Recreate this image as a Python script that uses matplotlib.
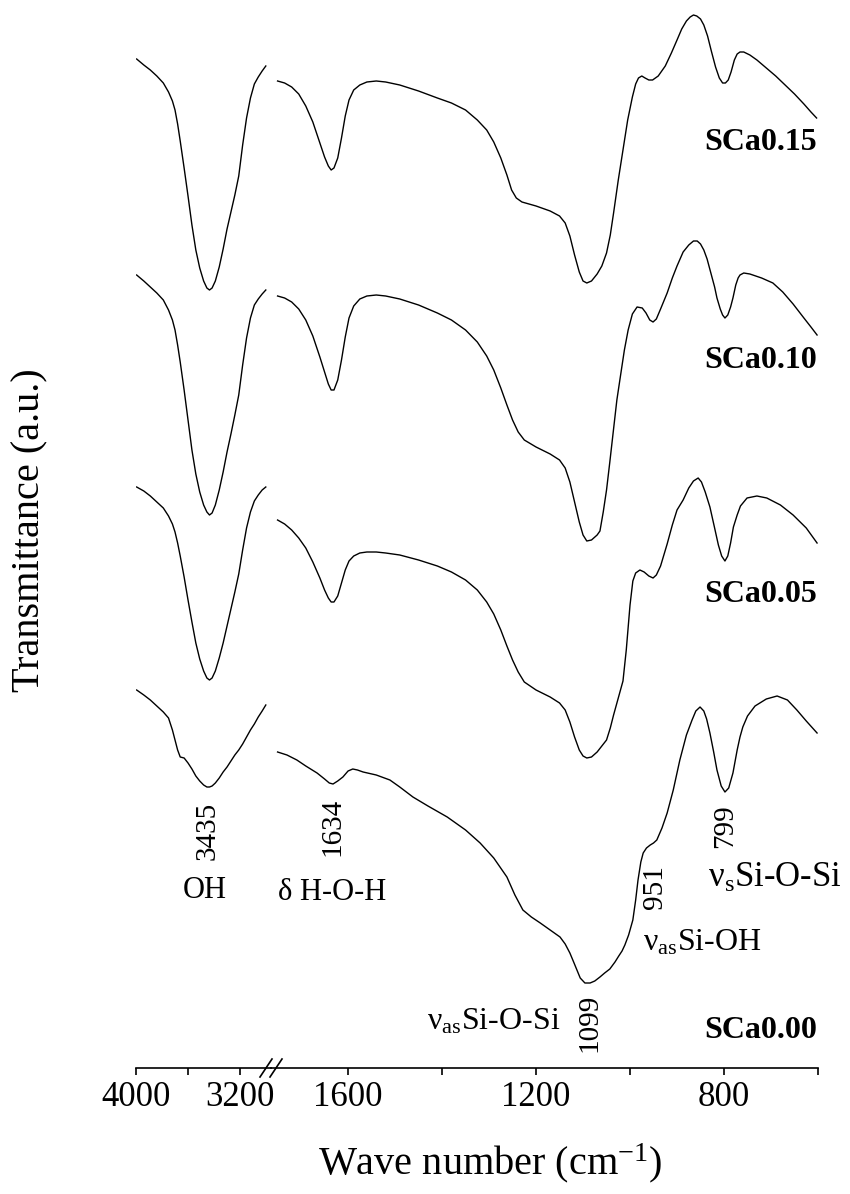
import matplotlib
matplotlib.use("Agg")
import matplotlib.pyplot as plt
from matplotlib.lines import Line2D

plt.rcParams['font.family'] = ['Liberation Serif', 'DejaVu Serif']
plt.rcParams['mathtext.fontset'] = 'custom'
plt.rcParams['mathtext.rm'] = 'Liberation Serif'
plt.rcParams['mathtext.it'] = 'Liberation Serif:italic'
plt.rcParams['mathtext.bf'] = 'Liberation Serif:bold'

# ================= data (wavenumber in cm-1, transmittance in a.u., stacked) =================
# O-H stretching region
hi_wn = [3995, 3940, 3890, 3840, 3790, 3750, 3720, 3700, 3680, 3660, 3630, 3600, 3570,
         3540, 3510, 3480, 3455, 3435, 3415, 3390, 3360, 3330, 3300, 3270, 3240, 3210,
         3180, 3150, 3120, 3090, 3060, 3030, 3002]
hi_sca015 = [100.9, 100.3, 99.8, 99.2, 98.5, 97.6, 96.7, 95.8, 94.4, 92.7, 90.0, 87.2, 84.3,
             81.8, 80.0, 78.7, 78.0, 77.8, 78.0, 78.7, 80.1, 81.9, 83.9, 85.6, 87.3, 89.2,
             92.3, 95.0, 97.0, 98.4, 99.1, 99.7, 100.2]
hi_sca010 = [79.3, 78.7, 78.1, 77.5, 76.8, 75.8, 74.8, 73.8, 72.3, 70.6, 67.8, 64.8, 61.8,
             59.4, 57.6, 56.3, 55.6, 55.3, 55.5, 56.3, 57.8, 59.6, 61.6, 63.4, 65.3, 67.3,
             70.3, 73.0, 75.0, 76.3, 76.9, 77.4, 77.8]
hi_sca005 = [58.1, 57.7, 57.2, 56.6, 56.0, 55.2, 54.4, 53.6, 52.5, 51.2, 49.1, 46.8, 44.6,
             42.5, 40.9, 39.7, 39.0, 38.8, 39.0, 39.7, 41.0, 42.5, 44.2, 45.9, 47.6, 49.4,
             51.8, 54.0, 55.6, 56.7, 57.3, 57.8, 58.1]
hi_sca000 = [37.8, 37.3, 36.8, 36.2, 35.6, 35.0, 33.8, 32.8, 31.8, 31.1, 31.0, 30.5, 29.9,
             29.2, 28.7, 28.3, 28.1, 28.1, 28.2, 28.5, 29.0, 29.6, 30.1, 30.7, 31.3, 31.8,
             32.4, 33.1, 33.8, 34.4, 35.1, 35.7, 36.3]

# fingerprint region
wn_015 = [1750, 1735, 1720, 1705, 1690, 1675, 1660, 1650, 1642, 1636,
          1630, 1622, 1614, 1606, 1598, 1588, 1575, 1560, 1540, 1520,
          1490, 1450, 1410, 1380, 1350, 1325, 1305, 1290, 1275, 1262,
          1252, 1242, 1230, 1200, 1170, 1150, 1138, 1128, 1118, 1108,
          1100, 1092, 1082, 1070, 1060, 1050, 1042, 1035, 1025, 1015,
          1005, 995, 988, 982, 975, 968, 960, 952, 940, 925,
          912, 900, 890, 880, 872, 865, 858, 850, 843, 835,
          827, 818, 810, 803, 797, 791, 785, 778, 772, 766,
          758, 745, 730, 710, 690, 670, 650, 630, 615, 603]
t_015 = [98.7, 98.5, 98.1, 97.4, 96.2, 94.6, 92.5, 91.1, 90.2, 89.8,
         90.0, 91.0, 93.0, 95.2, 96.8, 97.8, 98.3, 98.6, 98.7, 98.6,
         98.3, 97.7, 97.0, 96.5, 95.8, 94.8, 93.8, 92.6, 91.0, 89.3,
         87.8, 87.0, 86.6, 86.2, 85.7, 85.2, 84.5, 83.2, 81.3, 79.6,
         78.7, 78.5, 78.7, 79.4, 80.2, 81.5, 83.3, 85.5, 88.8, 91.8,
         94.8, 97.1, 98.4, 99.0, 99.2, 99.0, 98.8, 98.8, 99.2, 100.2,
         101.5, 102.8, 103.9, 104.7, 105.1, 105.3, 105.2, 104.9, 104.3, 103.2,
         101.7, 100.1, 99.0, 98.5, 98.5, 98.8, 99.6, 100.8, 101.4, 101.6,
         101.6, 101.3, 100.8, 100.0, 99.2, 98.3, 97.4, 96.4, 95.6, 95.0]

wn_010 = [1750, 1735, 1720, 1705, 1690, 1675, 1660, 1650, 1642, 1636,
          1630, 1622, 1614, 1606, 1598, 1588, 1575, 1560, 1540, 1520,
          1490, 1450, 1410, 1380, 1350, 1325, 1305, 1290, 1275, 1262,
          1250, 1238, 1225, 1200, 1170, 1150, 1138, 1128, 1118, 1108,
          1100, 1092, 1082, 1070, 1064, 1057, 1050, 1043, 1036, 1028,
          1021, 1012, 1004, 995, 985, 974, 966, 958, 951, 944,
          935, 921, 910, 900, 887, 875, 865, 857, 850, 843,
          836, 828, 820, 815, 808, 803, 798, 792, 786, 781,
          775, 770, 766, 758, 745, 720, 696, 675, 653, 630,
          615, 602]
t_010 = [77.2, 77.0, 76.6, 75.9, 74.8, 73.2, 71.1, 69.6, 68.4, 67.8,
         67.8, 68.8, 70.8, 73.1, 75.0, 76.2, 76.9, 77.2, 77.3, 77.2,
         76.9, 76.3, 75.5, 74.8, 73.8, 72.6, 71.2, 69.8, 68.0, 66.3,
         64.8, 63.6, 62.8, 62.1, 61.4, 60.8, 60.0, 58.6, 56.6, 54.6,
         53.3, 52.7, 52.8, 53.3, 53.7, 55.6, 57.8, 60.6, 63.5, 66.8,
         69.0, 71.8, 73.8, 75.4, 76.1, 76.0, 75.5, 74.8, 74.6, 74.9,
         75.9, 77.5, 79.0, 80.2, 81.6, 82.3, 82.7, 82.7, 82.4, 81.8,
         80.9, 79.5, 78.1, 77.0, 75.9, 75.3, 75.0, 75.3, 76.1, 77.0,
         78.3, 79.0, 79.3, 79.5, 79.4, 79.0, 78.5, 77.6, 76.4, 75.0,
         74.1, 73.3]

wn_005 = [1750, 1735, 1720, 1705, 1690, 1675, 1660, 1650, 1642, 1636,
          1630, 1622, 1614, 1606, 1598, 1588, 1575, 1560, 1540, 1520,
          1490, 1450, 1410, 1380, 1350, 1325, 1305, 1290, 1275, 1262,
          1250, 1238, 1225, 1200, 1170, 1150, 1138, 1128, 1118, 1108,
          1100, 1092, 1082, 1070, 1060, 1050, 1042, 1035, 1025, 1015,
          1008, 1000, 994, 988, 979, 970, 960, 951, 944, 935,
          921, 910, 900, 887, 875, 865, 855, 848, 840, 830,
          820, 812, 805, 798, 792, 786, 780, 772, 765, 751,
          730, 709, 680, 653, 625, 602]
t_005 = [54.8, 54.4, 53.8, 53.0, 52.0, 50.6, 49.0, 47.8, 47.0, 46.6,
         46.6, 47.2, 48.5, 49.8, 50.7, 51.2, 51.5, 51.6, 51.6, 51.5,
         51.3, 50.8, 50.2, 49.6, 48.8, 47.8, 46.6, 45.4, 43.8, 42.2,
         40.8, 39.6, 38.6, 37.8, 37.1, 36.5, 35.8, 34.6, 33.1, 31.8,
         31.2, 31.0, 31.1, 31.6, 32.2, 32.8, 34.0, 35.3, 37.0, 38.7,
         41.8, 46.3, 48.7, 49.5, 49.8, 49.6, 49.2, 49.0, 49.3, 50.2,
         52.4, 54.3, 55.8, 56.8, 58.0, 58.7, 59.0, 58.6, 57.6, 56.1,
         54.0, 52.3, 51.2, 50.7, 51.2, 52.5, 54.1, 55.3, 56.2, 57.0,
         57.2, 57.0, 56.3, 55.3, 54.0, 52.5]

wn_000 = [1750, 1730, 1709, 1690, 1666, 1650, 1640, 1632, 1622, 1611,
          1600, 1590, 1580, 1568, 1540, 1511, 1490, 1462, 1430, 1389,
          1350, 1319, 1290, 1262, 1245, 1228, 1210, 1191, 1170, 1149,
          1138, 1128, 1120, 1113, 1106, 1096, 1085, 1075, 1064, 1054,
          1043, 1032, 1024, 1017, 1011, 1003, 994, 988, 983, 977,
          972, 965, 957, 950, 943, 932, 921, 908, 894, 880,
          868, 860, 851, 843, 837, 830, 822, 815, 806, 798,
          790, 781, 772, 766, 760, 750, 734, 710, 687, 665,
          645, 625, 602]
t_000 = [31.6, 31.3, 30.8, 30.2, 29.5, 28.9, 28.5, 28.4, 28.7, 29.1,
         29.7, 29.9, 29.8, 29.6, 29.3, 28.8, 28.1, 27.1, 26.2, 25.1,
         23.8, 22.5, 21.0, 19.1, 17.3, 15.8, 15.1, 14.5, 13.8, 13.1,
         12.4, 11.5, 10.6, 9.8, 9.0, 8.5, 8.5, 8.7, 9.1, 9.5,
         9.9, 10.6, 11.2, 11.7, 12.3, 13.3, 14.8, 16.8, 18.8, 20.6,
         21.5, 22.0, 22.3, 22.5, 22.8, 24.0, 25.5, 27.8, 30.8, 33.3,
         34.8, 35.7, 36.1, 35.7, 34.9, 33.5, 31.6, 29.8, 28.2, 27.6,
         28.0, 29.5, 31.8, 33.1, 34.1, 35.2, 36.2, 36.9, 37.2, 36.8,
         35.8, 34.7, 33.5]

sample_names = ['SCa0.15', 'SCa0.10', 'SCa0.05', 'SCa0.00']
sample_label_t = [92.5, 70.7, 47.3, 3.8]

band_numbers = ['3435', '1634', '1099', '951', '799']
band_number_wn = [3446, 1634, 1086, 947, 798]
band_number_t = [23.7, 24.1, 4.5, 18.1, 24.2]

# ================= figure =================
W, H = 850, 1194
fig = plt.figure(figsize=(W / 100, H / 100), dpi=100)

px_left, px_break, px_right = 136, 271, 818
px_bottom = 1068
ax_b = 1 - px_bottom / H
ax_h = px_bottom / H

ax1 = fig.add_axes([px_left / W, ax_b, (px_break - px_left) / W, ax_h])
ax2 = fig.add_axes([px_break / W, ax_b, (px_right - px_break) / W, ax_h])

ax1.set_xlim(4000, 2962)
ax2.set_xlim(1764, 600)
for ax in (ax1, ax2):
    ax.set_ylim(0, 106.8)
    ax.patch.set_visible(False)
    for s in ('top', 'left', 'right'):
        ax.spines[s].set_visible(False)
    ax.spines['bottom'].set_linewidth(1.2)
    ax.set_yticks([])
    ax.tick_params(axis='x', which='both', direction='out', length=5, width=1.2,
                   labelsize=25, pad=4)

ax1.set_xticks([4000, 3200])
ax1.set_xticklabels(['4000', '3200'])
ax1.set_xticks([3600], minor=True)
ax2.set_xticks([1600, 1200, 800])
ax2.set_xticklabels(['1600', '1200', '800'])
ax2.set_xticks([1400, 1000, 600], minor=True)

lw = 1.0
for hv in (hi_sca015, hi_sca010, hi_sca005, hi_sca000):
    ax1.plot(hi_wn, hv, color='black', lw=lw)
for wn, tv in ((wn_015, t_015), (wn_010, t_010), (wn_005, t_005), (wn_000, t_000)):
    ax2.plot(wn, tv, color='black', lw=lw)

for name, tv in zip(sample_names, sample_label_t):
    ax2.text(602, tv, name, ha='right', va='center', fontsize=23, fontweight='bold')

for lab, xv, tv in zip(band_numbers, band_number_wn, band_number_t):
    axx = ax1 if xv > 2500 else ax2
    axx.text(xv, tv, lab, rotation=90, ha='center', va='center', fontsize=21)

ax1.text(3469, 17.8, 'OH', ha='center', va='center', fontsize=22)
ax2.text(1634, 17.6, 'δ H-O-H', ha='center', va='center', fontsize=22)
ax2.text(1149, 4.6, r'ν$_{\mathrm{as}}$Si-O-Si', ha='right', va='center', fontsize=23)
ax2.text(972, 12.5, r'ν$_{\mathrm{as}}$Si-OH', ha='left', va='center', fontsize=23)
ax2.text(834, 19.0, r'ν$_{\mathrm{s}}$Si-O-Si', ha='left', va='center', fontsize=25,
         clip_on=False)

fig.text(30 / W, 1 - 530 / H, 'Transmittance (a.u.)', rotation=90, ha='center',
         va='center', fontsize=29)
fig.text(490 / W, 1 - 1163 / H, r'Wave number (cm$^{\mathrm{-1}}$)', ha='center',
         va='center', fontsize=29)

# axis break marks
for dx in (-5, 5):
    x0 = (px_break + dx - 6) / W
    x1 = (px_break + dx + 6) / W
    y0 = 1 - (px_bottom + 9) / H
    y1 = 1 - (px_bottom - 9) / H
    fig.add_artist(Line2D([x0, x1], [y0, y1], color='black', lw=1.2))

fig.savefig('out.png', dpi=100)
